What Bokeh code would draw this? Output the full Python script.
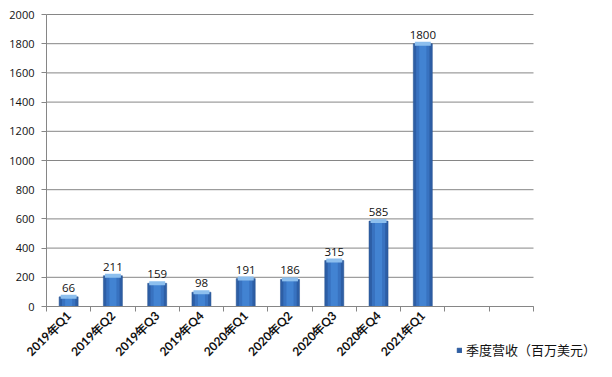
import math
from bokeh.plotting import figure
from bokeh.models import (Range1d, FixedTicker, ColumnDataSource, LabelSet, Legend, LegendItem)
from bokeh.embed import file_html
from bokeh.resources import INLINE
from bokeh.core.properties import value

categories = ["2019年Q1", "2019年Q2", "2019年Q3", "2019年Q4", "2020年Q1",
              "2020年Q2", "2020年Q3", "2020年Q4", "2021年Q1"]
revenue = [66, 211, 159, 98, 191, 186, 315, 585, 1800]
n_slots = 11
y_ticks = [0, 200, 400, 600, 800, 1000, 1200, 1400, 1600, 1800, 2000]
series_name = "季度营收（百万美元）"

# ---- layout (pixels) ----
W, H = 596, 361
LEFT, TOP = 46, 14        # pixel column of the value axis, row of 2000
PLOT_RIGHT = 533          # where the category slots end
AXIS_Y = 306              # pixel row of the value 0
slot_px = (PLOT_RIGHT - LEFT) / n_slots
x_start = -LEFT / slot_px
x_end = (W - LEFT) / slot_px
unit_px = (AXIS_Y - TOP) / y_ticks[-1]
y_start = -(H - AXIS_Y) / unit_px
y_end = y_ticks[-1] + TOP / unit_px

xs = [i + 0.5 for i in range(len(categories))]
src = ColumnDataSource(dict(x=xs, v=revenue, cat=categories,
                            lab=[str(v) for v in revenue]))

p = figure(width=W, height=H, output_backend="svg", toolbar_location=None,
           x_range=Range1d(x_start, x_end), y_range=Range1d(y_start, y_end),
           min_border_left=0, min_border_right=0, min_border_top=0,
           min_border_bottom=0, outline_line_color=None)

gray = "#868686"
p.yaxis.fixed_location = 0
p.yaxis.ticker = FixedTicker(ticks=y_ticks)
p.yaxis.bounds = (y_ticks[0], y_ticks[-1])
p.yaxis.axis_line_color = gray
p.yaxis.major_tick_line_color = gray
p.yaxis.major_tick_out = 5
p.yaxis.major_tick_in = 0
p.yaxis.minor_tick_line_color = None
p.yaxis.major_label_text_font = "Open Sans"
p.yaxis.major_label_text_font_size = "11px"
p.yaxis.major_label_text_color = "#111111"
p.yaxis.major_label_standoff = 7

# category labels at slot centres, tick marks at slot boundaries
p.xaxis.fixed_location = 0
p.xaxis.bounds = (0, n_slots)
p.xaxis.ticker = FixedTicker(ticks=xs, minor_ticks=list(range(n_slots + 1)))
p.xaxis.major_label_overrides = {x: c for x, c in zip(xs, categories)}
p.xaxis.major_label_orientation = math.pi / 4
p.xaxis.axis_line_color = gray
p.xaxis.major_tick_line_color = None
p.xaxis.major_tick_out = 5
p.xaxis.major_tick_in = 0
p.xaxis.minor_tick_line_color = gray
p.xaxis.minor_tick_out = 5
p.xaxis.minor_tick_in = 0
p.xaxis.major_label_standoff = 2
p.xaxis.major_label_text_font = "Lato"
p.xaxis.major_label_text_font_style = "bold"
p.xaxis.major_label_text_font_size = "12px"
p.xaxis.major_label_text_color = "#111111"

p.xgrid.grid_line_color = None
p.ygrid.grid_line_color = None
p.segment(x0=[0] * len(y_ticks), x1=[n_slots] * len(y_ticks), y0=y_ticks,
          y1=y_ticks, line_color=gray, line_width=1, level="underlay")

# cylinder-like bars
main = p.vbar(x="x", top="v", bottom=0, width=0.43, source=src,
              fill_color="#2d5ea5", line_color="#24508f", line_width=0.5)
p.vbar(x="x", top="v", bottom=0, width=0.30, source=src,
       fill_color="#3872c0", line_color=None)
p.vbar(x="x", top="v", bottom=0, width=0.16, source=src,
       fill_color="#4283d2", line_color=None)
p.rect(x="x", y="v", width=0.36, height=4, height_units="screen", source=src,
       fill_color="#8dbfee", line_color=None)

labels = LabelSet(x="x", y="v", text="lab", source=src, text_align="center",
                  text_baseline="bottom", y_offset=5,
                  text_font=value("Open Sans"), text_font_size="11.5px",
                  text_color="#111111")
p.add_layout(labels)

legend = Legend(items=[LegendItem(label=series_name, renderers=[main])],
                location=(456, 2), orientation="vertical",
                label_text_font="Noto Sans CJK SC",
                label_text_font_size="13px", label_text_color="#111111",
                glyph_width=6, glyph_height=6, label_standoff=4,
                padding=0, margin=0, spacing=0, label_height=16,
                border_line_color=None, background_fill_alpha=0)
p.add_layout(legend, "center")

open("out.html", "w").write(file_html(p, INLINE))
